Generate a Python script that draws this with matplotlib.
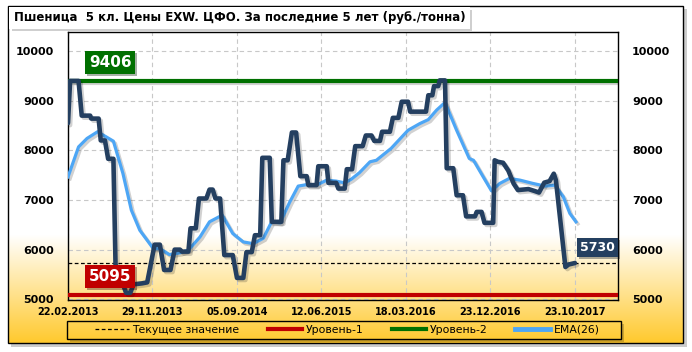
"""Пшеница 5 кл., цены EXW ЦФО: цена, EMA(26), уровни."""
import numpy as np
import matplotlib
matplotlib.use("Agg")
import matplotlib.pyplot as plt
import matplotlib.patheffects as pe
from matplotlib.lines import Line2D
from matplotlib.patches import Rectangle

TITLE = "Пшеница  5 кл. Цены EXW. ЦФО. За последние 5 лет (руб./тонна)"
TICK_POS = [0, 40, 80, 120, 160, 200, 240]
TICK_LABELS = ["22.02.2013", "29.11.2013", "05.09.2014", "12.06.2015",
               "18.03.2016", "23.12.2016", "23.10.2017"]

# цена (индекс недели, руб./т)
PRICE_X = [0, 1, 5, 6.5, 10.5, 11, 14.5, 15.5, 17.5, 19, 21.5, 22.5, 27.5, 29.5,
           31, 35, 37.5, 41, 43.5, 45.5, 48.5, 50.5, 53, 54, 57, 58, 60.5, 62,
           65.5, 67, 68.5, 69.8, 72, 74, 78, 80, 83, 84.5, 87, 88.5, 91, 92,
           95.5, 96.5, 101, 102, 104, 106, 108, 110, 113, 113.8, 117.7, 118.5,
           122.5, 123.3, 127, 128, 131, 132, 134.5, 136, 139.5, 141, 143.7, 145,
           147.7, 148.7, 152.4, 153.8, 156.4, 158, 161, 162, 169.5, 170.6, 172.5,
           173.3, 175.3, 176, 178.5, 179.3, 182.4, 184, 187, 188.5, 192.7, 193.5,
           195.8, 197.2, 201.3, 202, 203.5, 206, 208.5, 211, 213, 218, 221, 223,
           225.5, 228, 230, 231, 235.5, 237, 240]
PRICE_Y = [8550, 9400, 9400, 8700, 8700, 8640, 8640, 8200, 8200, 7830, 7830, 5700,
           5130, 5130, 5300, 5320, 5340, 6100, 6100, 5590, 5590, 6000, 6000, 5960,
           5960, 6430, 6430, 7030, 7030, 7210, 7210, 7030, 7030, 5890, 5890, 5430,
           5430, 5950, 5950, 6290, 6290, 7850, 7850, 6560, 6560, 7800, 7800, 8360,
           8360, 7480, 7480, 7300, 7300, 7680, 7680, 7345, 7345, 7230, 7230, 7620,
           7620, 8085, 8085, 8300, 8300, 8190, 8190, 8375, 8375, 8655, 8655, 8980,
           8980, 8780, 8780, 9110, 9110, 9295, 9295, 9410, 9410, 7640, 7640, 7095,
           7095, 6670, 6670, 6760, 6760, 6540, 6540, 7800, 7770, 7750, 7590, 7330,
           7200, 7220, 7180, 7150, 7350, 7380, 7530, 7400, 5650, 5700, 5730]

# EMA(26)
EMA_X = [0, 5, 9, 14, 21.5, 26, 30, 34, 40.4, 43.5, 48, 53, 57, 62.5, 67, 73, 78,
         83, 87.7, 92.5, 96.4, 100.4, 105, 109, 113, 117.7, 122.5, 127, 131, 134,
         138, 143, 146, 153, 161, 166.6, 170.6, 174.5, 178.5, 184, 190, 192, 196.6,
         200.5, 204.5, 209, 214, 220, 225.8, 230.5, 234.5, 237.6, 240.5]
EMA_Y = [7465, 8070, 8240, 8375, 8185, 7535, 6795, 6390, 6020, 6020, 5900, 5935,
         5990, 6255, 6560, 6695, 6325, 6155, 6120, 6230, 6560, 6540, 6960, 7280,
         7310, 7300, 7400, 7380, 7345, 7415, 7550, 7770, 7800, 8040, 8405, 8540,
         8620, 8810, 8965, 8405, 7835, 7800, 7465, 7185, 7335, 7435, 7400, 7335,
         7280, 7300, 7065, 6730, 6560]

LEVEL_1 = 5095
LEVEL_2 = 9406
CURRENT = 5730

C_PRICE = "#243F60"
C_EMA = "#4DA6F5"
C_L1 = "#C00000"
C_L2 = "#007000"

W, H = 692, 352
fig = plt.figure(figsize=(W / 100, H / 100), dpi=100)

# фон карточки с градиентом
bg = fig.add_axes([0, 0, 1, 1], zorder=-5)
bg.set_xlim(0, W)
bg.set_ylim(H, 0)
bg.axis("off")
ys = np.arange(6, 344)
t = np.clip((ys - 235) / (343 - 235), 0, 1)[:, None]
white = np.array([1.0, 1.0, 1.0])
gold = np.array([1.0, 0.79, 0.18])
grad = (white * (1 - t) + gold * t)[:, None, :]
bg.add_patch(Rectangle((11, 9), 676, 338, facecolor="#9a9a9a", edgecolor="none",
                       alpha=0.5, zorder=0.5))
bg.imshow(grad, extent=[8, 683, 343, 6], aspect="auto", interpolation="bilinear", zorder=1)
bg.add_patch(Rectangle((8, 6), 675, 337, facecolor="none", edgecolor="black", lw=1.0, zorder=2))
bg.add_patch(Rectangle((12, 10), 460, 21, facecolor="#b0b0b0", edgecolor="none",
                       alpha=0.6, zorder=2))
bg.add_patch(Rectangle((9, 7), 461, 22, facecolor="white", edgecolor="none", zorder=3))
bg.text(14, 18, TITLE, fontsize=8.5, fontweight="bold", va="center", ha="left", zorder=4)
# рамка легенды с тенью
bg.add_patch(Rectangle((70, 339.5), 554, 2.5, facecolor="black", edgecolor="none",
                       alpha=0.2, zorder=2))
bg.add_patch(Rectangle((621.5, 324), 2.5, 15.5, facecolor="black", edgecolor="none",
                       alpha=0.2, zorder=2))
bg.add_patch(Rectangle((67, 321), 554, 18, facecolor="none", edgecolor="black",
                       lw=1.0, zorder=3))

ax = fig.add_axes([68 / W, 1 - 300 / H, 550 / W, 268 / H])
ax.set_facecolor("none")
ax.set_xlim(0, 260.4)
ax.set_ylim(4985, 10385)

shadow = [pe.SimpleLineShadow(offset=(1.5, -1.5), shadow_color="black", alpha=0.18), pe.Normal()]

ax.axhline(LEVEL_2, color=C_L2, lw=3, zorder=3, path_effects=shadow)
ax.axhline(LEVEL_1, color=C_L1, lw=3, zorder=3)
ax.axhline(CURRENT, color="black", lw=0.9, ls=(0, (3, 2)), zorder=3)
ax.plot(EMA_X, EMA_Y, color=C_EMA, lw=2.3, zorder=4, path_effects=shadow,
        solid_joinstyle="round")
ax.plot(PRICE_X, PRICE_Y, color=C_PRICE, lw=3.3, zorder=5, path_effects=shadow,
        solid_joinstyle="round", solid_capstyle="round")

box_fx = [pe.withSimplePatchShadow(offset=(1.5, -1.5), alpha=0.35)]
for val, yv, xv, col, fs in [(LEVEL_2, LEVEL_2 + 370, 20, C_L2, 11),
                             (LEVEL_1, LEVEL_1 + 360, 20, C_L1, 11),
                             (CURRENT, CURRENT + 310, 250.5, C_PRICE, 9)]:
    txt = ax.text(xv, yv, str(val), color="white", fontsize=fs, fontweight="bold",
                  ha="center", va="center", zorder=6,
                  bbox=dict(boxstyle="square,pad=0.25", facecolor=col, edgecolor="none"))
    txt.get_bbox_patch().set_path_effects(box_fx)

ax.set_yticks([5000, 6000, 7000, 8000, 9000, 10000])
ax.set_xticks(TICK_POS)
ax.set_xticklabels(TICK_LABELS, fontsize=7, fontweight="bold")
ax.tick_params(axis="y", length=0, pad=10, labelsize=8, labelright=True)
ax.tick_params(axis="x", length=0, pad=5)
for lab in ax.get_yticklabels():
    lab.set_fontweight("bold")
ax.grid(True, color="#c8c8c8", ls=(0, (4, 3)), lw=0.8)
for s in ax.spines.values():
    s.set_color("black")
    s.set_linewidth(1.0)

handles = [Line2D([], [], color="black", lw=0.9, ls=(0, (3, 2))),
           Line2D([], [], color=C_L1, lw=3),
           Line2D([], [], color=C_L2, lw=3),
           Line2D([], [], color=C_EMA, lw=3.5)]
labels = ["Текущее значение", "Уровень-1", "Уровень-2", "EMA(26)"]
leg = fig.legend(handles, labels, loc="center", ncol=4, fontsize=7.8,
                 bbox_to_anchor=(347 / W, 1 - 330 / H), frameon=False,
                 handlelength=3.2, columnspacing=2.6,
                 borderpad=0.3, handletextpad=0.3)

fig.savefig("out.png", dpi=100)
plt.close(fig)
